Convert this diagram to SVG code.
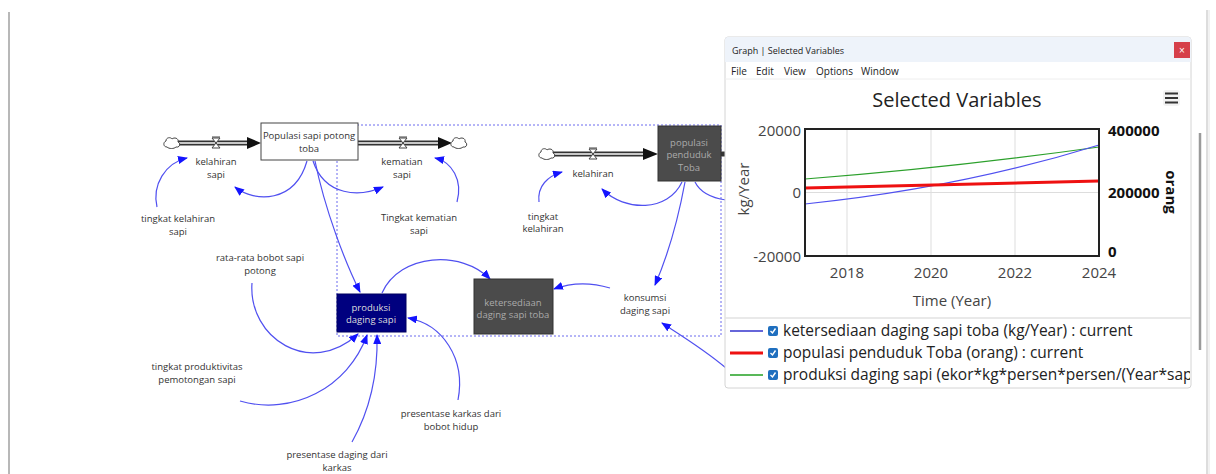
<svg xmlns="http://www.w3.org/2000/svg" width="1216" height="474" viewBox="0 0 1216 474">
<style>
.t{font-family:"Open Sans","Liberation Sans",sans-serif;font-size:9.5px;fill:#333;text-anchor:middle}
.tl{fill:#aaa}
.tw{fill:#ddd}
.lk{fill:none;stroke:#5050f0;stroke-width:1.2}
.pipe{fill:none;stroke:#333;stroke-width:5}
.pipei{fill:none;stroke:#c8c8c8;stroke-width:2.2}
.g{font-family:"Open Sans","Liberation Sans",sans-serif;fill:#222}
.ax{font-family:"Open Sans","Liberation Sans",sans-serif;font-size:15px;fill:#444}
.axb{font-family:"Open Sans","Liberation Sans",sans-serif;font-size:15px;font-weight:bold;fill:#111}
.grid{stroke:#ddd;stroke-width:1}
</style>
<defs>
<marker id="ah" markerWidth="10" markerHeight="8" refX="9" refY="4" orient="auto" markerUnits="userSpaceOnUse">
<path d="M0,0 L10,4 L0,8 Z" fill="#1414ff"/>
</marker>
<g id="cloud"><path d="M-5,4 C-9,4 -9,-1 -6,-2 C-6,-6 -1,-6 0,-4 C2,-6 7,-5 6,-1 C9,0 8,5 4,4 C2,6 -3,6 -5,4 Z" fill="#fff" stroke="#444" stroke-width="1"/></g>
<g id="valve"><path d="M-4,-5 L4,-5 L-4,5 L4,5 Z" fill="#fff" stroke="#444" stroke-width="1"/><path d="M-4,-6 H4" stroke="#444"/></g>
<clipPath id="lgclip"><rect x="725" y="318" width="465" height="70"/></clipPath>
</defs>
<rect width="1216" height="474" fill="#fff"/>
<line x1="9" y1="12" x2="9" y2="474" stroke="#a0a0a0" stroke-width="1.5"/>
<line x1="1207" y1="10" x2="1207" y2="474" stroke="#bbb" stroke-width="1"/>
<line x1="1209" y1="10" x2="1209" y2="474" stroke="#e4e4e4" stroke-width="1"/>
<rect x="337" y="125" width="384" height="211" fill="none" stroke="#6a6aee" stroke-width="1" stroke-dasharray="2,2"/>
<g id="flows">
<path class="pipe" d="M178,143 H249"/><path class="pipei" d="M178,143 H249"/>
<path d="M247,137 L261,143 L247,149 Z" fill="#111"/>
<use href="#cloud" x="172" y="143"/>
<use href="#valve" x="216" y="143"/>
<path class="pipe" d="M358,143 H440"/><path class="pipei" d="M358,143 H440"/>
<path d="M438,137 L452,143 L438,149 Z" fill="#111"/>
<use href="#cloud" x="459" y="143"/>
<use href="#valve" x="403" y="143"/>
<path class="pipe" d="M553,154 H644"/><path class="pipei" d="M553,154 H644"/>
<path d="M643,148 L658,154 L643,160 Z" fill="#111"/>
<use href="#cloud" x="547" y="154"/>
<use href="#valve" x="593" y="154"/>
<path class="pipe" d="M721,154 H726"/>
</g>
<g id="connectors">
<path class="lk" marker-end="url(#ah)" d="M157,207 C152,185 165,163 187,158"/>
<path class="lk" marker-end="url(#ah)" d="M307,161 C295,203 255,203 235,187"/>
<path class="lk" marker-end="url(#ah)" d="M313,161 C325,197 360,197 383,187"/>
<path class="lk" marker-end="url(#ah)" d="M457,202 C463,180 452,162 435,158"/>
<path class="lk" marker-end="url(#ah)" d="M315,161 C325,210 345,262 360,292"/>
<path class="lk" marker-end="url(#ah)" d="M382,293 C400,253 462,250 490,279"/>
<path class="lk" marker-end="url(#ah)" d="M610,288 C590,282 570,283 554,289"/>
<path class="lk" marker-end="url(#ah)" d="M252,283 C248,338 310,378 358,334"/>
<path class="lk" marker-end="url(#ah)" d="M240,401 C292,416 348,388 367,335"/>
<path class="lk" marker-end="url(#ah)" d="M352,442 C370,410 378,372 377,335"/>
<path class="lk" marker-end="url(#ah)" d="M458,400 C466,358 442,324 408,318"/>
<path class="lk" marker-end="url(#ah)" d="M682,182 C668,212 625,212 602,189"/>
<path class="lk" marker-end="url(#ah)" d="M539,202 C537,186 548,176 562,172"/>
<path class="lk" marker-end="url(#ah)" d="M685,182 C678,220 668,255 655,285"/>
<path class="lk" d="M695,182 C700,192 712,198 726,200"/>
<path class="lk" marker-end="url(#ah)" d="M726,368 C705,350 682,336 662,323"/>
</g>
<g id="stock-sapi">
<rect x="261" y="123" width="97" height="37" fill="#fff" stroke="#444" stroke-width="1"/>
<text class="t" x="309" y="139">Populasi sapi potong</text>
<text class="t" x="309" y="152">toba</text>
</g>
<g id="kelahiran-sapi"><text class="t" x="216" y="165">kelahiran</text><text class="t" x="216" y="178">sapi</text></g>
<g id="kematian-sapi"><text class="t" x="402" y="165">kematian</text><text class="t" x="402" y="178">sapi</text></g>
<g id="tingkat-kelahiran-sapi"><text class="t" x="178" y="222">tingkat kelahiran</text><text class="t" x="178" y="235">sapi</text></g>
<g id="tingkat-kematian-sapi"><text class="t" x="419" y="221">Tingkat kematian</text><text class="t" x="419" y="234">sapi</text></g>
<g id="rata-rata"><text class="t" x="260" y="261">rata-rata bobot sapi</text><text class="t" x="260" y="274">potong</text></g>
<g id="produktivitas"><text class="t" x="197" y="370">tingkat produktivitas</text><text class="t" x="197" y="383">pemotongan sapi</text></g>
<g id="karkas-bobot"><text class="t" x="451" y="417">presentase karkas dari</text><text class="t" x="451" y="430">bobot hidup</text></g>
<g id="daging-karkas"><text class="t" x="337" y="458">presentase daging dari</text><text class="t" x="337" y="471">karkas</text></g>
<g id="produksi">
<rect x="337" y="294" width="69" height="38" fill="#00007f" stroke="#000060"/>
<text class="t tw" x="371" y="311">produksi</text><text class="t tw" x="371" y="323">daging sapi</text>
</g>
<g id="ketersediaan">
<rect x="474" y="279" width="79" height="55" fill="#4b4b4b" stroke="#333"/>
<text class="t tl" x="513" y="306">ketersediaan</text><text class="t tl" x="513" y="318">daging sapi toba</text>
</g>
<g id="konsumsi"><text class="t" x="645" y="301">konsumsi</text><text class="t" x="645" y="314">daging sapi</text></g>
<g id="populasi-penduduk">
<rect x="658" y="126" width="63" height="55" fill="#4b4b4b" stroke="#333"/>
<text class="t tl" x="689" y="146">populasi</text><text class="t tl" x="689" y="158">penduduk</text><text class="t tl" x="689" y="171">Toba</text>
</g>
<g id="kelahiran"><text class="t" x="593" y="177">kelahiran</text></g>
<g id="tingkat-kelahiran"><text class="t" x="543" y="220">tingkat</text><text class="t" x="543" y="232">kelahiran</text></g>
<g id="graph-window">
<rect x="725" y="37" width="466" height="351" rx="3" fill="#fff" stroke="#d4d4d4"/>
<path d="M728,37 H1188 Q1191,37 1191,40 V62 H725 V40 Q725,37 728,37 Z" fill="#eef3fa"/>
<text class="g" x="732" y="54" font-size="9">Graph | Selected Variables</text>
<rect x="1174" y="42" width="16" height="16" fill="#d6404a"/>
<text x="1182" y="53.5" font-family="Liberation Sans,sans-serif" font-size="10" fill="#fff" text-anchor="middle">×</text>
<g class="g" font-size="10">
<text x="731" y="75">File</text><text x="756" y="75">Edit</text><text x="784" y="75">View</text><text x="816" y="75">Options</text><text x="861" y="75">Window</text>
</g>
<line x1="725" y1="79" x2="1191" y2="79" stroke="#eee"/>
<text class="g" x="957" y="107" font-size="20" text-anchor="middle" fill="#333">Selected Variables</text>
<rect x="1163" y="90" width="17" height="16" rx="3" fill="#f2f2f2"/>
<g stroke="#333" stroke-width="2"><line x1="1165" y1="93.5" x2="1178" y2="93.5"/><line x1="1165" y1="98" x2="1178" y2="98"/><line x1="1165" y1="102.5" x2="1178" y2="102.5"/></g>
<g class="grid">
<line x1="847" y1="129" x2="847" y2="256"/><line x1="931" y1="129" x2="931" y2="256"/><line x1="1015" y1="129" x2="1015" y2="256"/>
<line x1="805" y1="192.5" x2="1099" y2="192.5"/>
</g>
<path d="M805,179 Q950,168 1099,147" fill="none" stroke="#2ca02c" stroke-width="1.2"/>
<path d="M805,204 Q960,188 1099,145" fill="none" stroke="#5050f0" stroke-width="1.2"/>
<path d="M805,188 L1099,181" fill="none" stroke="#ee1111" stroke-width="3"/>
<rect x="805" y="129" width="294" height="127" fill="none" stroke="#222" stroke-width="2"/>
<g class="ax" text-anchor="end"><text x="801" y="136">20000</text><text x="801" y="198">0</text><text x="801" y="262">-20000</text></g>
<g class="axb"><text x="1108" y="136">400000</text><text x="1108" y="198">200000</text><text x="1108" y="257">0</text></g>
<g class="ax" text-anchor="middle"><text x="847" y="278">2018</text><text x="931" y="278">2020</text><text x="1015" y="278">2022</text><text x="1099" y="278">2024</text></g>
<text class="ax" transform="translate(749,189) rotate(-90)" text-anchor="middle">kg/Year</text>
<text class="axb" transform="translate(1166,192) rotate(90)" text-anchor="middle">orang</text>
<text class="ax" x="952" y="306" text-anchor="middle" font-size="15.5">Time (Year)</text>
<line x1="725" y1="318" x2="1191" y2="318" stroke="#e2e2e2" stroke-width="1.5"/>
<line x1="730" y1="331" x2="763" y2="331" stroke="#3333cc" stroke-width="1.5"/>
<line x1="730" y1="353" x2="763" y2="353" stroke="#ee1111" stroke-width="3"/>
<line x1="730" y1="375" x2="763" y2="375" stroke="#22a022" stroke-width="1.5"/>
<g fill="#1f6fbf"><rect x="768" y="326" width="10" height="10" rx="2"/><rect x="768" y="348" width="10" height="10" rx="2"/><rect x="768" y="370" width="10" height="10" rx="2"/></g>
<g fill="none" stroke="#fff" stroke-width="1.4"><path d="M770.5,331 L772.5,333 L775.5,328.5"/><path d="M770.5,353 L772.5,355 L775.5,350.5"/><path d="M770.5,375 L772.5,377 L775.5,372.5"/></g>
<g class="g" font-size="15.5" clip-path="url(#lgclip)">
<text x="783" y="336">ketersediaan daging sapi toba (kg/Year) : current</text>
<text x="783" y="358">populasi penduduk Toba (orang) : current</text>
<text x="783" y="380">produksi daging sapi (ekor*kg*persen*persen/(Year*sap</text>
</g>
</g>
<line x1="1200" y1="133" x2="1200" y2="350" stroke="#9a9a9a" stroke-width="2.5"/>
</svg>
